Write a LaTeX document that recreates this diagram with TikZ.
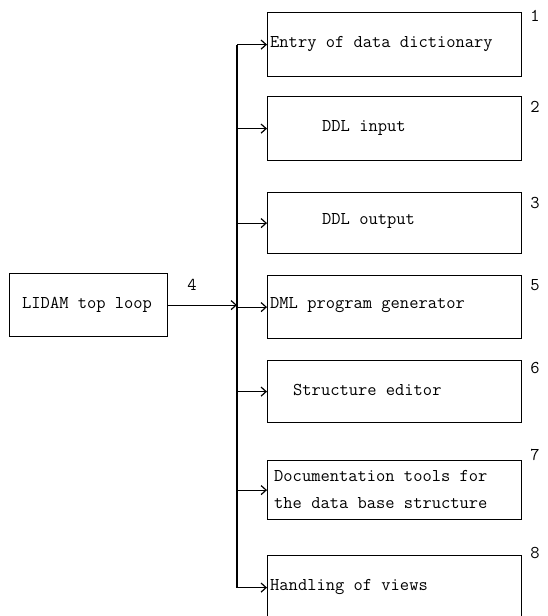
\documentclass[tikz,border=0pt]{standalone}
\usetikzlibrary{arrows.meta}
\begin{document}
\begin{tikzpicture}[x=1pt,y=-1pt,
  box/.style={draw,line width=1.2pt,minimum width=254pt,minimum height=64pt,anchor=north west,inner sep=0pt},
  txt/.style={anchor=west,inner sep=0pt,font=\fontsize{18}{27}\selectfont\ttfamily,align=left},
  num/.style={inner sep=0pt,font=\fontsize{18}{20}\selectfont\ttfamily},
  arr/.style={line width=1.2pt,-{Straight Barb[length=5pt,width=9pt,line width=1.2pt]}},
  conn/.style={line width=1.2pt}]
\useasboundingbox (0,0) rectangle (547,616);
% right boxes
\node[box] (b1) at (267,12) {};
\node[box] (b2) at (267,96) {};
\node[box,minimum height=61pt] (b3) at (267,192) {};
\node[box,minimum height=63pt] (b5) at (267,275) {};
\node[box,minimum height=62pt] (b6) at (267,360) {};
\node[box,minimum height=59pt] (b7) at (267,460) {};
\node[box] (b8) at (267,555) {};
% left box
\node[draw,line width=1.2pt,minimum width=158pt,minimum height=63pt,anchor=north west,inner sep=0pt] (lidam) at (9,273) {};
% texts
\node[txt] (t0) at (22,305) {LIDAM top loop};
\node[txt] (t1) at (270,44) {Entry of data dictionary};
\node[txt] (t2) at (322,128) {DDL input};
\node[txt] (t3) at (322,221) {DDL output};
\node[txt] (t5) at (270,305) {DML program generator};
\node[txt] (t6) at (293,390) {Structure editor};
\node[txt] (t7) at (274,489) {Documentation tools for\\the data base structure};
\node[txt] (t8) at (270,587) {Handling of views};
% numbers
\node[num] (n1) at (535,16) {1};
\node[num] (n2) at (535,107) {2};
\node[num] (n3) at (535,203) {3};
\node[num] (n4) at (192,285) {4};
\node[num] (n5) at (535,285) {5};
\node[num] (n6) at (535,368) {6};
\node[num] (n7) at (535,455) {7};
\node[num] (n8) at (535,553) {8};
% spine
\coordinate (sp) at (237,0);
\draw[conn] (sp|-b1.west) -- (sp|-b8.west);
\draw[arr] (lidam.east) -- (sp|-lidam.east);
\foreach \b in {b1,b2,b3,b5,b6,b7,b8}
  \draw[arr] (sp|-\b.west) -- (\b.west);
\end{tikzpicture}
\end{document}
